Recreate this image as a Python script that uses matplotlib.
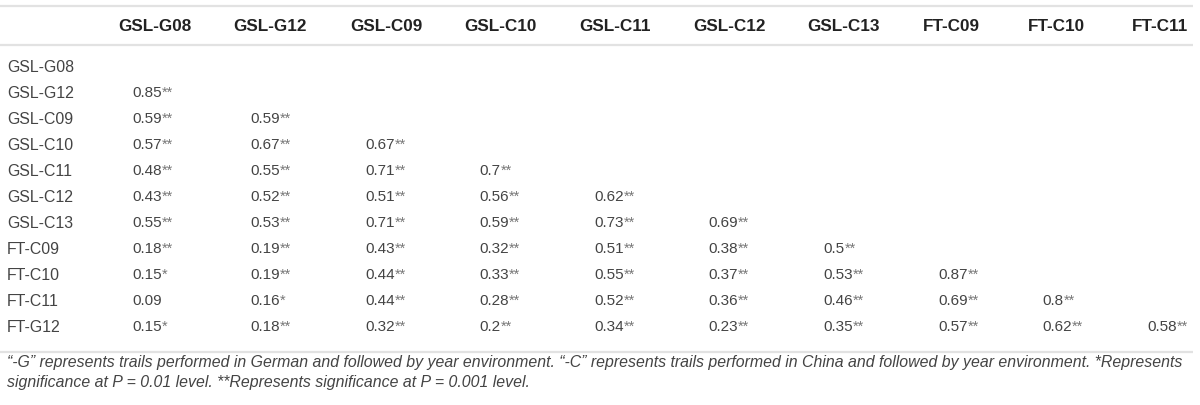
import matplotlib
matplotlib.use('Agg')
import matplotlib.pyplot as plt

plt.rcParams['font.family'] = ['Liberation Sans', 'DejaVu Sans']

columns = ['GSL-G08', 'GSL-G12', 'GSL-C09', 'GSL-C10', 'GSL-C11',
           'GSL-C12', 'GSL-C13', 'FT-C09', 'FT-C10', 'FT-C11']
rows = ['GSL-G08', 'GSL-G12', 'GSL-C09', 'GSL-C10', 'GSL-C11', 'GSL-C12',
        'GSL-C13', 'FT-C09', 'FT-C10', 'FT-C11', 'FT-G12']

# lower triangle of correlations, one list per row
r_vals = [
    [],
    [0.85],
    [0.59, 0.59],
    [0.57, 0.67, 0.67],
    [0.48, 0.55, 0.71, 0.7],
    [0.43, 0.52, 0.51, 0.56, 0.62],
    [0.55, 0.53, 0.71, 0.59, 0.73, 0.69],
    [0.18, 0.19, 0.43, 0.32, 0.51, 0.38, 0.5],
    [0.15, 0.19, 0.44, 0.33, 0.55, 0.37, 0.53, 0.87],
    [0.09, 0.16, 0.44, 0.28, 0.52, 0.36, 0.46, 0.69, 0.8],
    [0.15, 0.18, 0.32, 0.2, 0.34, 0.23, 0.35, 0.57, 0.62, 0.58],
]
sig = [
    [],
    ['**'],
    ['**', '**'],
    ['**', '**', '**'],
    ['**', '**', '**', '**'],
    ['**', '**', '**', '**', '**'],
    ['**', '**', '**', '**', '**', '**'],
    ['**', '**', '**', '**', '**', '**', '**'],
    ['*', '**', '**', '**', '**', '**', '**', '**'],
    ['', '*', '**', '**', '**', '**', '**', '**', '**'],
    ['*', '**', '**', '**', '**', '**', '**', '**', '**', '**'],
]

note1 = ('\u201c-G\u201d represents trails performed in German and followed by year environment. '
         '\u201c-C\u201d represents trails performed in China and followed by year environment. *Represents')
note2 = 'significance at P = 0.01 level. **Represents significance at P = 0.001 level.'

# layout (pixels)
head_x = [155, 270, 386, 500, 615, 729, 843, 951, 1056, 1160]
val_x = [132, 250, 365, 479, 594, 708, 823, 938, 1042, 1147]
row_y0, row_dy = 67, 26

fig = plt.figure(figsize=(12, 4.05), dpi=100)
ax = fig.add_axes([0, 0, 1, 1])
ax.set_xlim(0, 1200)
ax.set_ylim(405, 0)
ax.axis('off')

for y in [5.5, 45, 352]:
    ax.plot([0, 1193], [y, y], color='#e2e2e2', lw=1.6, solid_capstyle='butt')

for x, c in zip(head_x, columns):
    ax.text(x, 26.5, c, ha='center', va='center', fontsize=12.3,
            fontweight='bold', color='#222222')

for i, name in enumerate(rows):
    y = row_y0 + i * row_dy
    ax.text(7, y, name, ha='left', va='center', fontsize=11.4, color='#444444')
    for j, v in enumerate(r_vals[i]):
        t = ax.text(val_x[j], y, f'{v:g}', ha='left', va='center',
                    fontsize=11, color='#444444')
        if sig[i][j]:
            ax.annotate(sig[i][j], xy=(1, 1), xycoords=t, xytext=(0.4, 0.3),
                        textcoords='offset points', ha='left', va='top',
                        fontsize=10.5, color='#777777')

ax.text(7, 363, note1, ha='left', va='center', fontsize=11.4,
        style='italic', color='#444444')
ax.text(7, 382, note2, ha='left', va='center', fontsize=11.4,
        style='italic', color='#444444')

plt.savefig('out.png', dpi=100)
